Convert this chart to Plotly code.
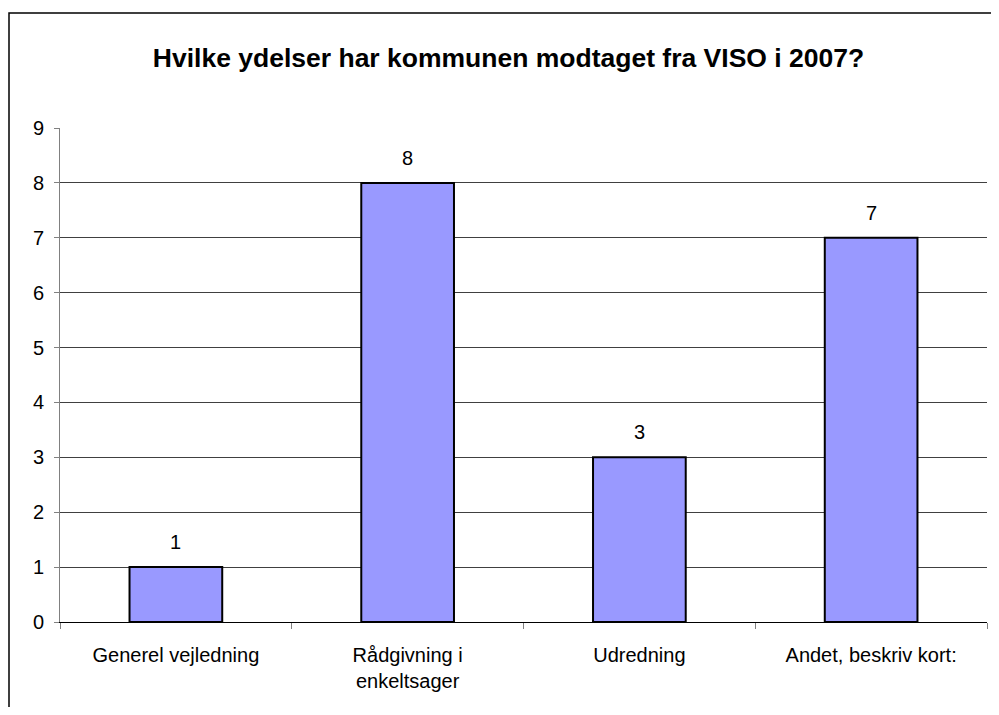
import plotly.graph_objects as go

categories = ["Generel vejledning", "Rådgivning i<br>enkeltsager", "Udredning", "Andet, beskriv kort:"]
values = [1, 8, 3, 7]
y_ticks = [0, 1, 2, 3, 4, 5, 6, 7, 8, 9]
title = "Hvilke ydelser har kommunen modtaget fra VISO i 2007?"

OFF = 8  # page body margin
W, H = 999 - 2 * OFF, 715 - 2 * OFF
L, T = 60 - OFF, 128 - OFF
R = W - (987 - OFF)
B = H - (622 - OFF)
pw, ph = W - L - R, H - T - B

FONT = "Liberation Sans, Arial"

fig = go.Figure()
fig.add_trace(go.Bar(
    x=categories, y=values,
    marker=dict(color="#9999FF", line=dict(color="black", width=2)),
    cliponaxis=False,
))

for c, v in zip(categories, values):
    fig.add_annotation(x=c, y=v, text=str(v), showarrow=False, yanchor="bottom", yshift=12,
                       font=dict(family=FONT, size=20, color="black"))

def px_x(p):
    return (p - OFF - L) / pw

def px_y(p):
    return (H - B - (p - OFF)) / ph

fig.add_shape(type="rect", xref="paper", yref="paper",
              x0=px_x(9), x1=px_x(1030), y0=px_y(740), y1=px_y(13),
              line=dict(color="black", width=1.5), fillcolor="rgba(0,0,0,0)", layer="below")

fig.update_layout(
    width=W, height=H,
    margin=dict(l=L, r=R, t=T, b=B),
    paper_bgcolor="white", plot_bgcolor="white",
    bargap=0.6,
    showlegend=False,
    font=dict(family=FONT, size=20, color="black"),
    title=dict(text="<b>" + title + "</b>", x=(508.5 - OFF) / W, xanchor="center",
               y=1 - (58 - OFF) / H, yanchor="middle",
               font=dict(family=FONT, size=26.5, color="black")),
    xaxis=dict(type="category", showgrid=False, showline=True, linecolor="black", linewidth=1,
               ticks="outside", tickson="boundaries", ticklen=6, tickcolor="#808080",
               tickfont=dict(size=20), ticklabelstandoff=15, fixedrange=True),
    yaxis=dict(range=[0, 9], tickvals=y_ticks, showgrid=True, gridcolor="#404040", gridwidth=1,
               showline=True, linecolor="#808080", linewidth=1, ticks="outside", ticklen=5,
               tickcolor="#808080", tickfont=dict(size=20), ticklabelstandoff=6,
               zeroline=False, fixedrange=True),
)

fig.write_html("out.html")
